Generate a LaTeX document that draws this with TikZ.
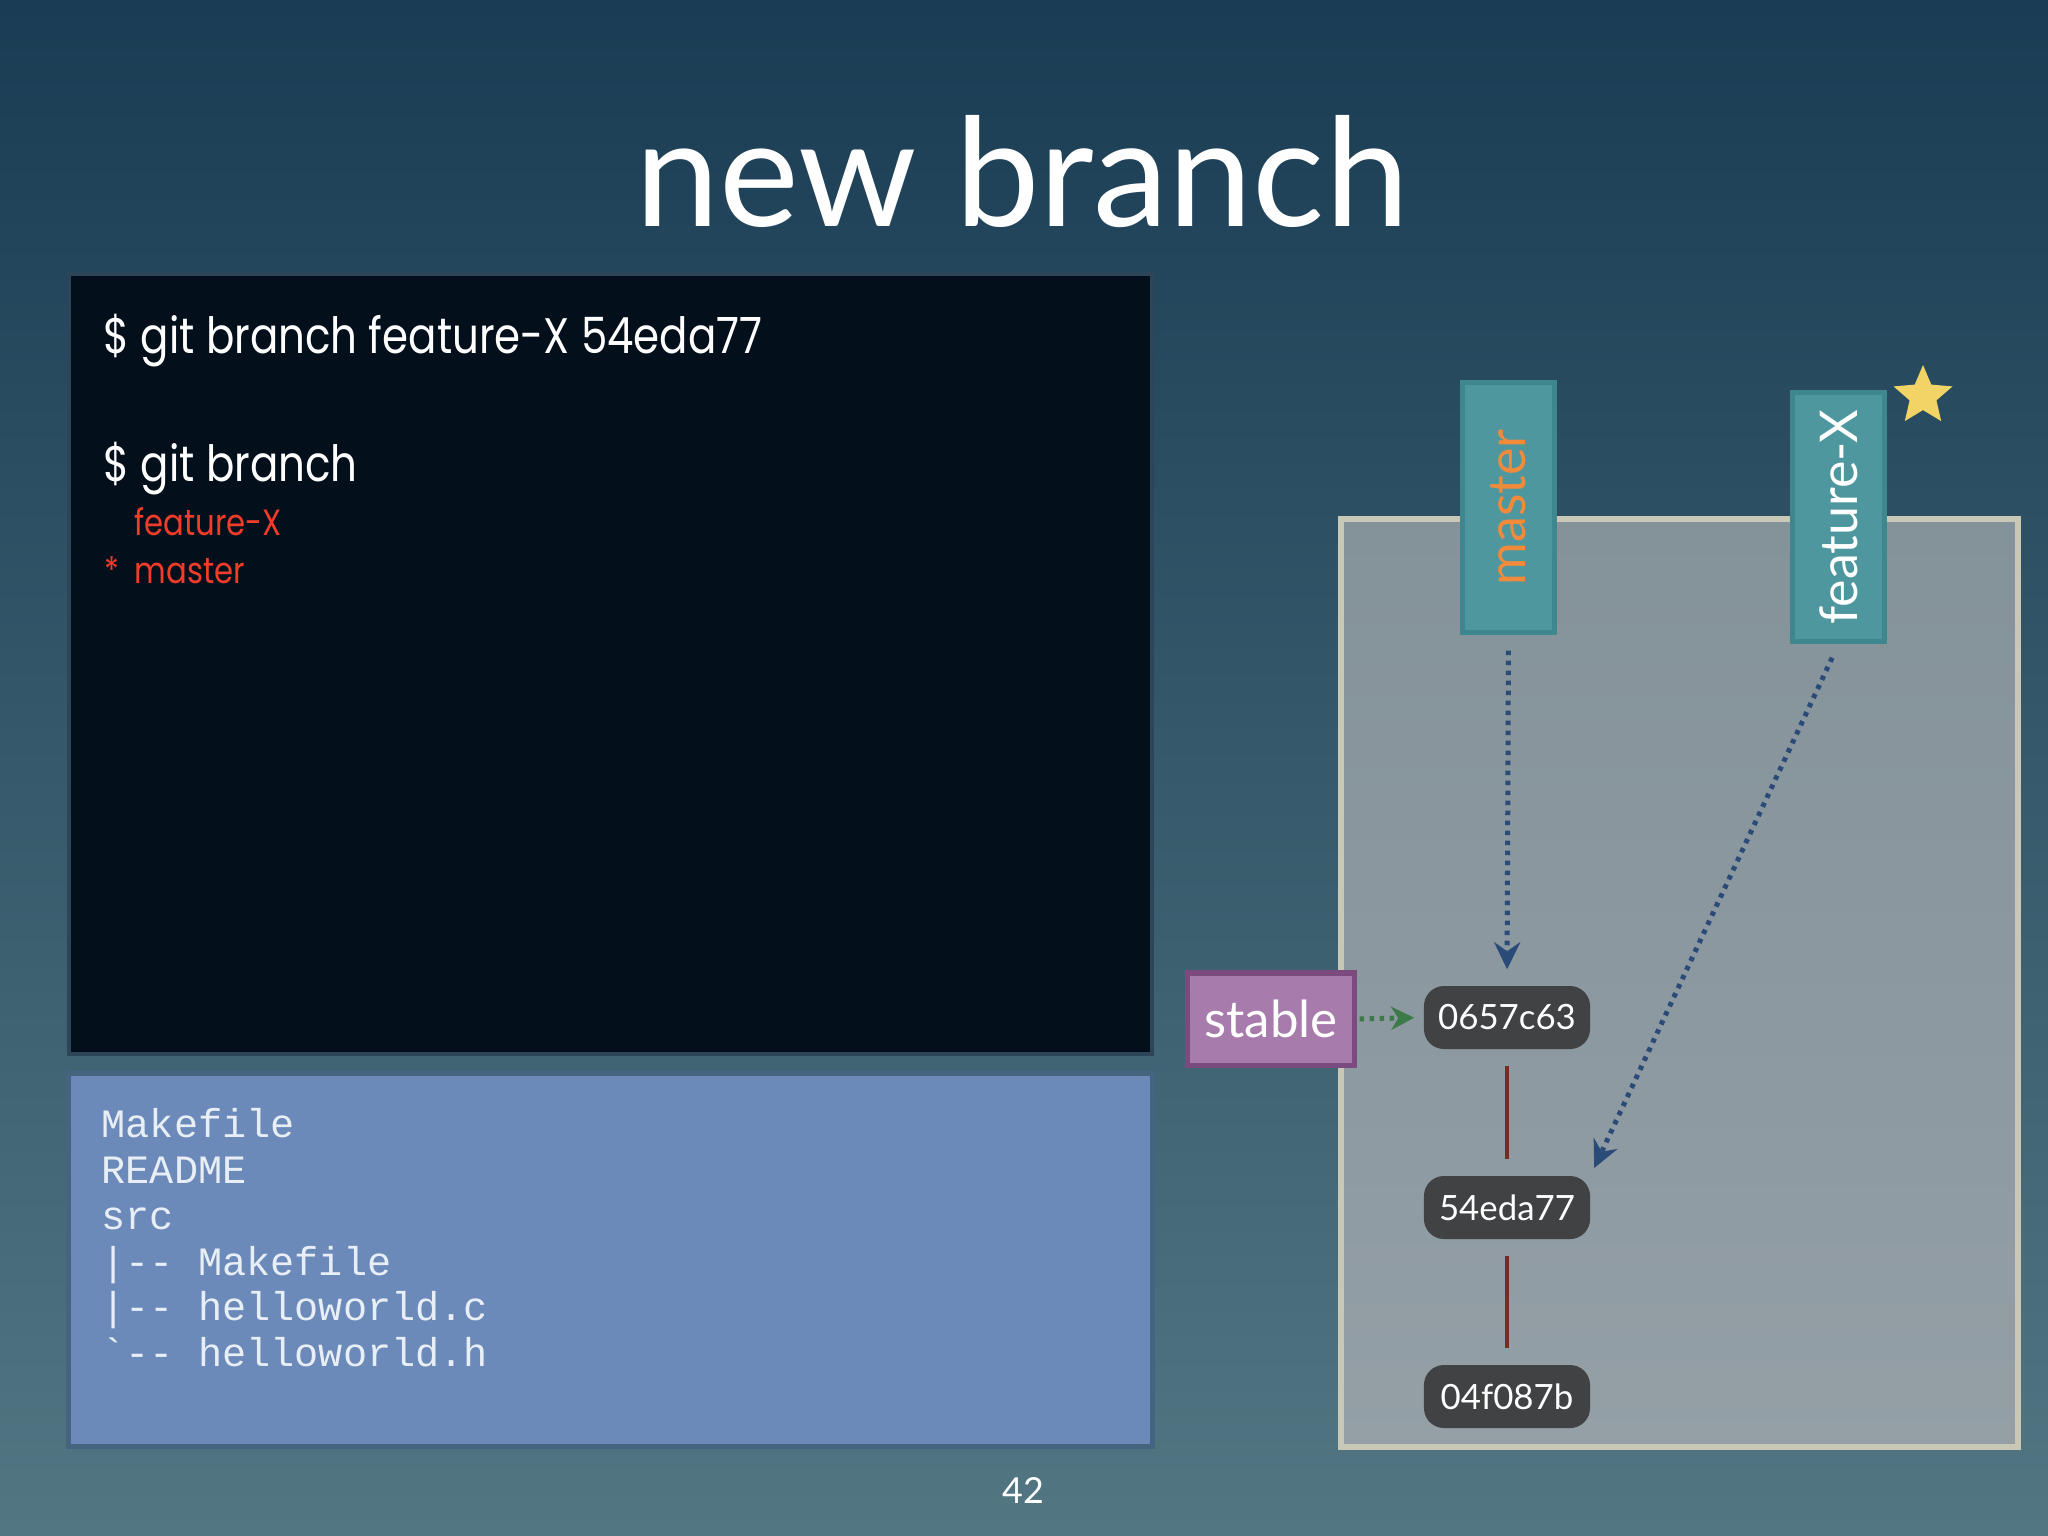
\documentclass[tikz,border=0pt]{standalone}
\usepackage{fontspec}
\usepackage{graphicx}
\setmainfont{Lato}
\setmonofont{Liberation Mono}
\newfontfamily\termfont{Poppins}[FakeStretch=0.84]
\usetikzlibrary{shapes.geometric,arrows.meta}
\definecolor{bgtop}{HTML}{1A3C54}
\definecolor{bgbot}{HTML}{527682}
\definecolor{termfill}{HTML}{030F1B}
\definecolor{termline}{HTML}{2C4558}
\definecolor{filesfill}{HTML}{6B89B9}
\definecolor{filesline}{HTML}{45647F}
\definecolor{paneltop}{HTML}{84929A}
\definecolor{panelbot}{HTML}{949FA6}
\definecolor{panelline}{HTML}{C9C7B5}
\definecolor{tealfill}{HTML}{4E979E}
\definecolor{tealline}{HTML}{3F878F}
\definecolor{mastercol}{HTML}{F28A3C}
\definecolor{commitfill}{HTML}{404244}
\definecolor{commitline}{HTML}{7A2A22}
\definecolor{stablefill}{HTML}{A77BAB}
\definecolor{stableline}{HTML}{7B4B80}
\definecolor{navy}{HTML}{2A4A78}
\definecolor{greenarrow}{HTML}{3C7B48}
\definecolor{starcol}{HTML}{F2D466}
\definecolor{redtext}{HTML}{F23C2A}
\definecolor{monotext}{HTML}{E8EEF5}
\begin{document}
\begin{tikzpicture}[x=0.01cm,y=-0.01cm,
  titletext/.style={inner sep=0pt,anchor=base,text=white,font=\fontsize{42.9pt}{50pt}\selectfont},
  termbox/.style={draw=termline,line width=0.04cm,fill=termfill,minimum width=10.83cm,minimum height=7.8cm,inner sep=0pt},
  filesbox/.style={draw=filesline,line width=0.05cm,fill=filesfill,minimum width=10.83cm,minimum height=3.72cm,inner sep=0pt},
  panelbox/.style={draw=panelline,line width=0.06cm,top color=paneltop,bottom color=panelbot,minimum width=6.77cm,minimum height=9.28cm,inner sep=0pt},
  termtxt/.style={inner sep=0pt,anchor=base west,text=white,font=\termfont\fontsize{14.2pt}{17pt}\selectfont},
  redtxt/.style={inner sep=0pt,anchor=base west,text=redtext,font=\termfont\fontsize{10.4pt}{13pt}\selectfont},
  monotxt/.style={inner sep=0pt,anchor=base west,text=monotext,font=\ttfamily\fontsize{11.44pt}{13pt}\selectfont},
  branchbox/.style={draw=tealline,line width=0.05cm,fill=tealfill,minimum width=0.91cm,minimum height=2.49cm,inner sep=0pt,font=\fontsize{14.8pt}{17pt}\selectfont},
  commitbox/.style={fill=commitfill,rounded corners=0.2cm,minimum width=1.66cm,minimum height=0.63cm,inner sep=0pt,text=white,font=\fontsize{9.9pt}{12pt}\selectfont},
  stablebox/.style={draw=stableline,line width=0.05cm,fill=stablefill,minimum width=1.66cm,minimum height=0.92cm,inner sep=0pt,text=white,font=\fontsize{14.5pt}{17pt}\selectfont},
  refarrow/.style={draw=navy,line width=0.05cm,dash pattern=on 0.045cm off 0.055cm,-{Stealth[length=0.27cm,width=0.26cm,inset=0.09cm]}},
  greenref/.style={draw=greenarrow,line width=0.05cm,dash pattern=on 0.045cm off 0.055cm,-{Stealth[length=0.23cm,width=0.23cm,inset=0.07cm]}},
  parentline/.style={draw=commitline,line width=0.04cm},
  pagenum/.style={inner sep=0pt,anchor=base,text=white,font=\fontsize{10.2pt}{12pt}\selectfont}
]
\useasboundingbox (0,0) rectangle (2048,1535);
\shade[top color=bgtop,bottom color=bgbot] (0,0) rectangle (2048,1535);

\node[titletext] (title) at (1022,226) {new branch};

\node[termbox] (term) at (610.5,664) {};
\node[filesbox] (files) at (610.5,1260) {};
\node[panelbox] (panel) at (1679.5,983) {};

\node[termtxt] (cmd1) at (103,353) {\$ git branch feature-X 54eda77};
\node[termtxt] (cmd2) at (103,481) {\$ git branch};
\node[redtxt] (br1) at (134,535) {feature-X};
\node[redtxt] (cur) at (104,583) {*};
\node[redtxt] (br2) at (134,583) {master};

\node[monotxt] (f1) at (101,1137) {Makefile};
\node[monotxt] (f2) at (101,1183) {README};
\node[monotxt] (f3) at (101,1229) {src};
\node[monotxt] (f4) at (101,1275) {|-{}- Makefile};
\node[monotxt] (f5) at (101,1320) {|-{}- helloworld.c};
\node[monotxt] (f6) at (101,1366) {\char96-{}- helloworld.h};

\node[branchbox,text=mastercol] (master) at (1508.5,507.5) {\rotatebox{90}{master}};
\node[branchbox,text=white] (feat) at (1838.5,517) {\rotatebox{90}{feature-X}};
\node[star,star points=5,star point ratio=2.2,fill=starcol,minimum size=0.62cm,inner sep=0pt] (hl) at (1923,396) {};

\node[commitbox] (c1) at (1507,1017.5) {0657c63};
\node[commitbox] (c2) at (1507,1207.5) {54eda77};
\node[commitbox] (c3) at (1507,1396.5) {04f087b};
\node[stablebox] (stable) at (1271,1019) {stable};

\draw[parentline,shorten <=0.16cm,shorten >=0.16cm] (c1.south) -- (c2.north);
\draw[parentline,shorten <=0.16cm,shorten >=0.16cm] (c2.south) -- (c3.north);
\draw[refarrow,shorten <=0.16cm,shorten >=0.16cm] (master.south) -- (c1.north);
\draw[refarrow,shorten <=0.15cm,shorten >=0.08cm] (feat.south) -- (c2.north east);
\draw[greenref,shorten <=0.03cm,shorten >=0.09cm] (stable.east) -- (c1.west);

\node[pagenum] (pnum) at (1023,1503) {42};
\end{tikzpicture}
\end{document}
